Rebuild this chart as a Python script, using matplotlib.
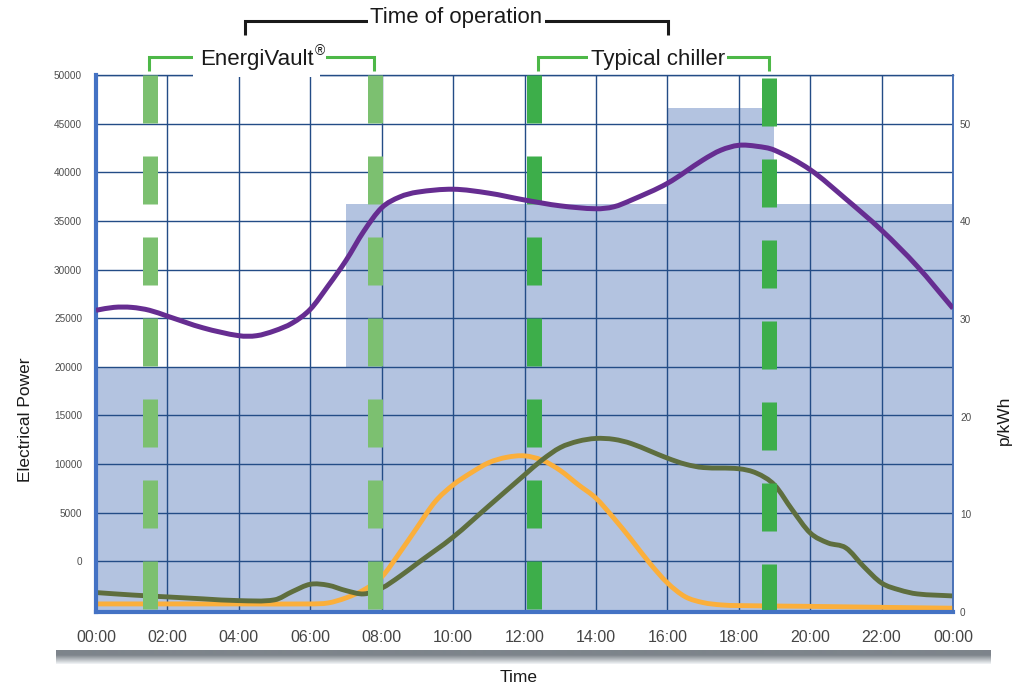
import numpy as np
import matplotlib
matplotlib.use("Agg")
import matplotlib.pyplot as plt
from matplotlib.lines import Line2D
from matplotlib.path import Path
from matplotlib.patches import PathPatch

plt.rcParams['font.family'] = ['Liberation Sans', 'DejaVu Sans']
plt.rcParams['lines.scale_dashes'] = False

# ---------------- data ----------------
tick_hours = list(range(0, 25, 2))
tick_labels = ["00:00", "02:00", "04:00", "06:00", "08:00", "10:00", "12:00",
               "14:00", "16:00", "18:00", "20:00", "22:00", "00:00"]
left_ticks = list(range(0, 50001, 5000))
right_ticks = [0, 10, 20, 30, 40, 50]

# tariff blocks (electrical power axis)
tariff_start = [0, 7, 16, 19]
tariff_end = [7, 16, 19, 24]
tariff_level = [20000, 36700, 46600, 36700]

# price curve (p/kWh, right axis)
price_hours = [0, 0.5, 1, 1.5, 2, 3, 4, 4.5, 5, 5.5, 6, 6.5, 7, 7.5, 8, 8.5, 9, 10,
               11, 12, 13, 14, 14.5, 15, 16, 17, 17.5, 18, 18.5, 19, 20, 21, 22, 23, 24]
price_values = [30.9, 31.2, 31.2, 30.9, 30.3, 29.1, 28.3, 28.3, 28.8, 29.6, 31.0, 33.4,
                36.0, 39.0, 41.4, 42.5, 43.0, 43.3, 42.9, 42.2, 41.6, 41.3, 41.5, 42.2,
                43.9, 46.3, 47.3, 47.8, 47.7, 47.3, 45.3, 42.3, 39.1, 35.4, 31.1]

# typical chiller load (olive)
chiller_hours = [0, 1, 2, 3, 4, 5, 5.5, 6, 6.5, 7, 7.5, 8, 8.5, 9, 10, 11, 12, 12.5, 13,
                 13.5, 14, 14.5, 15, 16, 16.5, 17, 18, 18.5, 19, 19.5, 20, 20.5, 21, 21.5,
                 22, 22.5, 23, 24]
chiller_values = [-3200, -3450, -3650, -3850, -4030, -3950, -3100, -2350, -2450, -3000,
                  -3340, -2750, -1560, -200, 2500, 5700, 8890, 10450, 11700, 12350, 12640,
                  12550, 12100, 10620, 10000, 9650, 9525, 9070, 7860, 5290, 2930, 1900,
                  1390, -530, -2220, -2930, -3340, -3550]

# EnergiVault load (orange)
ev_hours = [0, 2, 4, 6, 6.5, 7, 7.5, 8, 8.5, 9, 9.5, 10, 10.5, 11, 11.5, 12, 12.5, 13,
            13.5, 14, 14.5, 15, 15.5, 16, 16.5, 17, 17.5, 18, 20, 22, 24]
ev_values = [-4370, -4370, -4370, -4370, -4270, -3750, -2930, -1600, 870, 3530, 6150,
             7860, 9100, 10150, 10700, 10850, 10400, 9350, 7900, 6500, 4450, 2200, -150,
             -2200, -3630, -4230, -4470, -4540, -4620, -4720, -4810]

# operation window markers (hours)
op_hours = [1.5, 7.82, 12.27, 18.86]


def smooth_path(xs, ys):
    """Smoothed (Excel-style) cubic Bezier path through the given points."""
    x = np.asarray(xs, float)
    y = np.asarray(ys, float)
    n = len(x)
    m = np.zeros(n)
    m[0] = (y[1] - y[0]) / (x[1] - x[0])
    m[-1] = (y[-1] - y[-2]) / (x[-1] - x[-2])
    for i in range(1, n - 1):
        m[i] = (y[i + 1] - y[i - 1]) / (x[i + 1] - x[i - 1])
    verts = [(x[0], y[0])]
    codes = [Path.MOVETO]
    for i in range(n - 1):
        dx = x[i + 1] - x[i]
        verts += [(x[i] + dx / 3, y[i] + m[i] * dx / 3),
                  (x[i + 1] - dx / 3, y[i + 1] - m[i + 1] * dx / 3),
                  (x[i + 1], y[i + 1])]
        codes += [Path.CURVE4] * 3
    return Path(verts, codes)


def draw_curve(axis, xs, ys, color, lw, z):
    p = PathPatch(smooth_path(xs, ys), fill=False, edgecolor=color, lw=lw, zorder=z,
                  capstyle='butt', joinstyle='round')
    axis.add_patch(p)


# ---------------- style ----------------
W, H = 1021, 687
fig = plt.figure(figsize=(W / 100, H / 100), dpi=100)
ax_l, ax_r, ax_t, ax_b = 96, 953, 75, 612
ax = fig.add_axes([ax_l / W, 1 - ax_b / H, (ax_r - ax_l) / W, (ax_b - ax_t) / H])

YMIN, YMAX = -5200, 50000
ax.set_xlim(0, 24)
ax.set_ylim(YMIN, YMAX)

fill_col = '#b3c3e0'
for s, e, lv in zip(tariff_start, tariff_end, tariff_level):
    ax.fill_between([s, e], YMIN, lv, color=fill_col, lw=0, zorder=0.5)

grid_col = '#234c86'
ax.set_axisbelow(False)
ax.set_xticks(tick_hours)
ax.set_xticklabels(tick_labels)
ax.set_yticks(left_ticks)
ax.set_yticklabels([str(v) for v in left_ticks])
ax.grid(True, color=grid_col, lw=1.0)
ax.tick_params(axis='x', length=0, pad=13, labelsize=11.5, labelcolor='#454545')
ax.tick_params(axis='y', length=0, pad=10, labelsize=7.2, labelcolor='#4d4d4d')

draw_curve(ax, ev_hours, ev_values, '#fbaf3b', 3.5, 3)
draw_curve(ax, chiller_hours, chiller_values, '#5e6e3e', 3.5, 3.1)

op_colors = ['#7cc070', '#7cc070', '#3dae4a', '#3dae4a']
op_offsets_px = [0, 0, 0, 3]
px = 0.72
for h, c, off in zip(op_hours, op_colors, op_offsets_px):
    period = 81
    offset = (period - off) % period
    ax.plot([h, h], [YMAX, YMIN], color=c, lw=15 * px, zorder=4,
            linestyle=(offset * px, (48 * px, 33 * px)), dash_capstyle='butt',
            clip_on=True)

for side in ['left', 'bottom']:
    ax.spines[side].set_color('#4472c4')
    ax.spines[side].set_linewidth(3.0)
    ax.spines[side].set_zorder(6)
ax.spines['top'].set_color(grid_col)
ax.spines['top'].set_linewidth(1.0)
ax.spines['right'].set_color('#4a73b8')
ax.spines['right'].set_linewidth(1.2)

ax2 = ax.twinx()
ax2.set_ylim(0, 55)
ax2.set_yticks(right_ticks)
ax2.tick_params(axis='y', length=0, pad=5, labelsize=7.2, labelcolor='#4d4d4d')
for side in ['left', 'bottom', 'top']:
    ax2.spines[side].set_visible(False)
ax2.spines['right'].set_color('#4a73b8')
ax2.spines['right'].set_linewidth(1.2)
draw_curve(ax2, price_hours, price_values, '#662d91', 3.6, 5)

# axis labels
fig.text(25 / W, 1 - 420 / H, 'Electrical Power', rotation=90, ha='center', va='center',
         fontsize=12.5, color='#1a1a1a')
fig.text(1004 / W, 1 - 420 / H, 'p/kWh', rotation=90, ha='center', va='center',
         fontsize=12.5, color='#1a1a1a')
fig.text(519 / W, 1 - 678 / H, 'Time', ha='center', va='center', fontsize=12.5,
         color='#1a1a1a')


def hx(h):
    return (ax_l + h / 24 * (ax_r - ax_l)) / W


def fy(y):
    return 1 - y / H


def bracket(h0, h1, y_top, y_bot, color, lw):
    fig.add_artist(Line2D([hx(h0), hx(h0), hx(h1), hx(h1)],
                          [fy(y_bot), fy(y_top), fy(y_top), fy(y_bot)],
                          color=color, lw=lw, solid_joinstyle='miter',
                          solid_capstyle='butt', transform=fig.transFigure))


bracket(4.17, 16.02, 21, 35, '#1a1a1a', 2.2)
bracket(1.48, 7.79, 57, 71, '#4db848', 2.2)
bracket(12.38, 18.86, 57, 71, '#4db848', 2.2)

bb = dict(facecolor='white', edgecolor='none', pad=2)
fig.text(hx((4.17 + 16.02) / 2), fy(18), 'Time of operation', ha='center', va='center',
         fontsize=16, color='#1a1a1a', bbox=bb, zorder=10)
fig.text(hx((1.48 + 7.79) / 2) - 5 / W, fy(60), 'EnergiVault', ha='center',
         va='center', fontsize=16, color='#1a1a1a',
         bbox=dict(facecolor='white', edgecolor='none', pad=5), zorder=10)
fig.text(hx((1.48 + 7.79) / 2) - 5 / W + 58 / W, fy(51), '®', ha='left', va='center',
         fontsize=10, color='#1a1a1a',
         bbox=dict(facecolor='white', edgecolor='none', pad=1), zorder=10)
fig.text(hx((12.38 + 18.86) / 2) + 4 / W, fy(60), 'Typical chiller', ha='center',
         va='center', fontsize=16, color='#1a1a1a', bbox=bb, zorder=10)

# grey bar under axis
gax = fig.add_axes([56 / W, 1 - 664 / H, (990 - 56) / W, 14 / H])
grad = np.linspace(0, 1, 14)
top = np.array([0x7d, 0x84, 0x8b]) / 255
bot = np.array([0.93, 0.94, 0.95])
wts = np.clip((grad - 0.35) / 0.65, 0, 1)[:, None]
img = top * (1 - wts) + bot * wts
gax.imshow(img[:, None, :], aspect='auto', extent=[0, 1, 0, 1], interpolation='bilinear')
gax.set_axis_off()

fig.savefig('out.png', dpi=100)
